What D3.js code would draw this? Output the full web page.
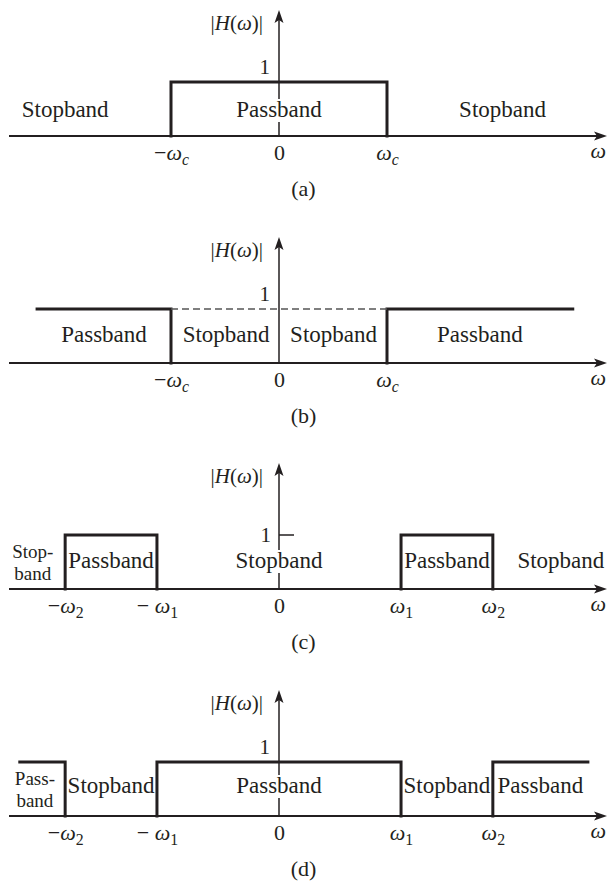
<!DOCTYPE html>
<html>
<head>
<meta charset="utf-8">
<script src="https://cdn.jsdelivr.net/npm/d3@7"></script>
<style>
  body { margin: 0; background: #fff; }
  svg text { font-family: 'Liberation Serif', 'Times New Roman', serif; fill: #231f20; }
</style>
</head>
<body>
<svg id="fig" width="607" height="882"></svg>
<script>
(function() {
  // frequencies on the ω axis, in units of ωc
  const wc = 1;
  const w1 = 1.13;
  const w2 = 1.98;

  const captions = ['(a)', '(b)', '(c)', '(d)'];

  // |H(ω)| as step paths of [ω, magnitude]
  const respA = [[[-wc, 0], [-wc, 1], [wc, 1], [wc, 0]]];
  const respB = [[[-2.24, 1], [-wc, 1], [-wc, 0]], [[wc, 0], [wc, 1], [2.72, 1]]];
  const respC = [[[-w2, 0], [-w2, 1], [-w1, 1], [-w1, 0]], [[w1, 0], [w1, 1], [w2, 1], [w2, 0]]];
  const respD = [[[-2.4, 1], [-w2, 1], [-w2, 0]], [[-w1, 0], [-w1, 1], [w1, 1], [w1, 0]], [[w2, 0], [w2, 1], [2.86, 1]]];
  const dashB = [[[-wc, 1], [wc, 1]]];

  // band names and the ω they sit over
  const bandsA = [['Stopband', -1.98], ['Passband', 0], ['Stopband', 2.07]];
  const bandsB = [['Passband', -1.62], ['Stopband', -0.49], ['Stopband', 0.505], ['Passband', 1.86]];
  const bandsC = [['Stop-\nband', -2.28], ['Passband', -1.555], ['Stopband', 0], ['Passband', 1.555], ['Stopband', 2.61]];
  const bandsD = [['Pass-\nband', -2.26], ['Stopband', -1.555], ['Passband', 0], ['Stopband', 1.555], ['Passband', 2.42]];

  const ticksAB = [-wc, 0, wc];
  const tickLabelsAB = ['−ω_c', '0', 'ω_c'];
  const ticksCD = [-w2, -w1, 0, w1, w2];
  const tickLabelsCD = ['−ω_2', '− ω_1', '0', 'ω_1', 'ω_2'];

  const panels = [
    {resp: respA, dash: [], bands: bandsA, ticks: ticksAB, labels: tickLabelsAB, oneOnTick: false, lift: 19},
    {resp: respB, dash: dashB, bands: bandsB, ticks: ticksAB, labels: tickLabelsAB, oneOnTick: false, lift: 21},
    {resp: respC, dash: [], bands: bandsC, ticks: ticksCD, labels: tickLabelsCD, oneOnTick: true, lift: 21},
    {resp: respD, dash: [], bands: bandsD, ticks: ticksCD, labels: tickLabelsCD, oneOnTick: false, lift: 23}
  ];
  const axisYs = [136, 363, 589, 816];

  const ink = '#231f20';
  const svg = d3.select('#fig');
  const x = d3.scaleLinear().domain([-2.5, 3]).range([9, 603]);
  const x0 = x(0);

  // write "−ω_c" style labels as tspans: ω italic, part after _ as subscript
  function mathText(sel, str, size) {
    const parts = str.split('_');
    for (const ch of parts[0]) {
      sel.append('tspan').attr('font-style', ch === 'ω' ? 'italic' : null).text(ch);
    }
    if (parts[1]) {
      sel.append('tspan').attr('font-size', size * 0.72).attr('dy', 5)
        .attr('font-style', /[a-z]/.test(parts[1]) ? 'italic' : null).text(parts[1]);
    }
  }

  panels.forEach(function(p, i) {
    const ay = axisYs[i];
    const y = d3.scaleLinear().domain([0, 1]).range([ay, ay - 54]);
    const line = d3.line().x(d => x(d[0])).y(d => y(d[1]));

    const gAxes = svg.append('g');
    const gBg = svg.append('g');
    const gResp = svg.append('g');
    const gText = svg.append('g');

    // ω axis with arrow
    gAxes.append('line').attr('x1', x(-2.5)).attr('x2', x(3)).attr('y1', ay).attr('y2', ay)
      .attr('stroke', ink).attr('stroke-width', 2);
    gAxes.append('path').attr('d', 'M' + (x(3) + 4) + ',' + ay + ' l-13,-4.5 l3,4.5 l-3,4.5 z').attr('fill', ink);
    // magnitude axis with arrow
    gAxes.append('line').attr('x1', x0).attr('x2', x0).attr('y1', ay).attr('y2', ay - 120)
      .attr('stroke', ink).attr('stroke-width', 1.5);
    gAxes.append('path').attr('d', 'M' + x0 + ',' + (ay - 126) + ' l-4.5,13 l4.5,-3 l4.5,3 z').attr('fill', ink);

    // response
    gResp.selectAll('path.resp').data(p.resp).enter().append('path').attr('class', 'resp')
      .attr('d', line).attr('fill', 'none').attr('stroke', ink).attr('stroke-width', 3)
      .attr('stroke-linejoin', 'miter').attr('stroke-linecap', 'square');
    gResp.selectAll('path.dash').data(p.dash).enter().append('path').attr('class', 'dash')
      .attr('d', line).attr('fill', 'none').attr('stroke', '#555').attr('stroke-width', 1.5)
      .attr('stroke-dasharray', '7,4');

    // |H(ω)| label
    const hl = gText.append('text').attr('x', x0 - 16).attr('y', ay - 106)
      .attr('text-anchor', 'end').attr('font-size', 21);
    hl.append('tspan').text('|');
    hl.append('tspan').attr('font-style', 'italic').text('H');
    hl.append('tspan').text('(');
    hl.append('tspan').attr('font-style', 'italic').text('ω');
    hl.append('tspan').text(')|');

    // the "1" mark
    if (p.oneOnTick) {
      gAxes.append('line').attr('x1', x0).attr('x2', x0 + 15).attr('y1', y(1)).attr('y2', y(1))
        .attr('stroke', ink).attr('stroke-width', 1.5);
      gText.append('text').attr('x', x0 - 8).attr('y', y(1) + 7).attr('text-anchor', 'end')
        .attr('font-size', 21).text('1');
    } else {
      gText.append('text').attr('x', x0 - 9).attr('y', y(1) - 8).attr('text-anchor', 'end')
        .attr('font-size', 21).text('1');
    }

    // band names
    p.bands.forEach(function(b) {
      const lines = b[0].split('\n');
      if (lines.length === 1) {
        const t = gText.append('text').attr('text-anchor', 'middle').attr('font-size', 23)
          .attr('x', x(b[1])).attr('y', ay - p.lift).text(lines[0]);
        // blank out the magnitude axis behind names that cross it
        const bb = t.node().getBBox();
        if (bb.x < x0 && bb.x + bb.width > x0) {
          gBg.append('rect').attr('x', bb.x).attr('y', bb.y + 2).attr('width', bb.width)
            .attr('height', bb.height - 2).attr('fill', '#fff');
        }
      } else {
        lines.forEach(function(s, k) {
          gText.append('text').attr('text-anchor', 'middle').attr('font-size', 19)
            .attr('x', x(b[1])).attr('y', ay - 31 + k * 22).text(s);
        });
      }
    });

    // ω ticks
    const axis = d3.axisBottom(x).tickValues(p.ticks).tickSize(0).tickFormat('');
    const ga = gText.append('g').attr('transform', 'translate(0,' + ay + ')').call(axis)
      .attr('font-family', null).attr('font-size', null);
    ga.select('.domain').remove();
    ga.selectAll('.tick text').attr('y', 24).attr('dy', null).attr('font-size', 22)
      .each(function(d, j) { mathText(d3.select(this), p.labels[j], 22); });

    gText.append('text').attr('x', 606).attr('y', ay + 22).attr('text-anchor', 'end')
      .attr('font-size', 22).attr('font-style', 'italic').text('ω');

    gText.append('text').attr('x', 303.5).attr('y', ay + 60).attr('text-anchor', 'middle')
      .attr('font-size', 22).text(captions[i]);
  });
}());
</script>
</body>
</html>
